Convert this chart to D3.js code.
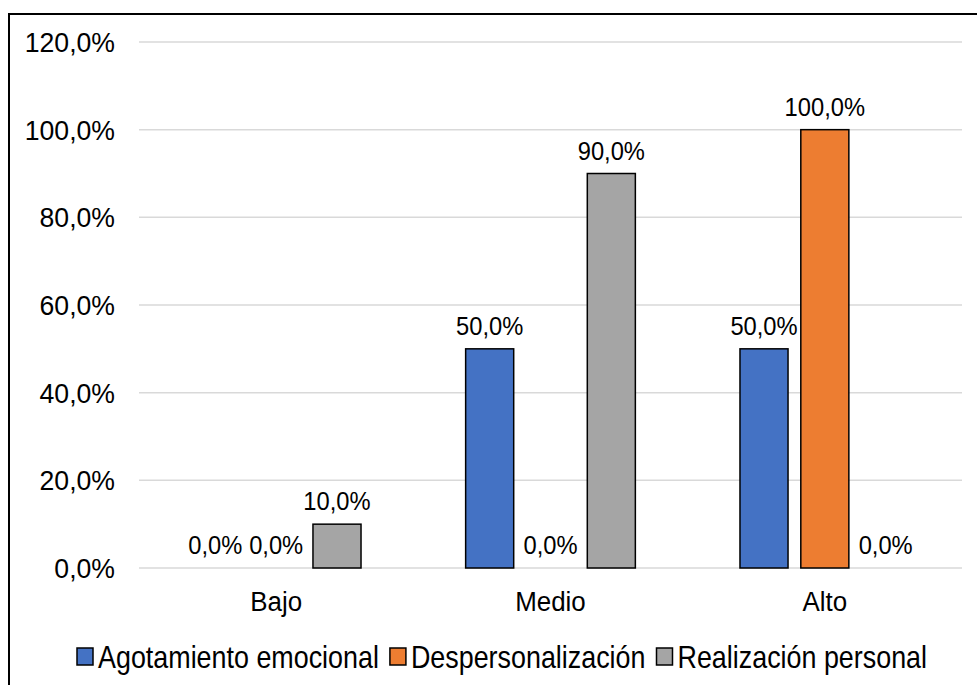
<!DOCTYPE html>
<html>
<head>
<meta charset="utf-8">
<script src="https://cdn.jsdelivr.net/npm/d3@7/dist/d3.min.js"></script>
<style>
  html, body { margin: 0; padding: 0; background: #fff; }
  svg { display: block; font-family: Arial, "Liberation Sans", sans-serif; }
</style>
</head>
<body>
<svg id="chart" width="977" height="685"></svg>
<script>
// Burnout dimensions by level
const categories = ["Bajo", "Medio", "Alto"];
const seriesNames = ["Agotamiento emocional", "Despersonalización", "Realización personal"];
const agotamiento = [0, 50, 50];
const despersonalizacion = [0, 0, 100];
const realizacion = [10, 90, 0];
const yTicks = [0, 20, 40, 60, 80, 100, 120];
const seriesColors = ["#4472C4", "#ED7D31", "#A5A5A5"];

const seriesValues = [agotamiento, despersonalizacion, realizacion];

const svg = d3.select("#chart");
const W = 977, H = 685;

const fmt = v => d3.format(".1f")(v).replace(".", ",") + "%";

// Narrow a text node horizontally to a fraction of its natural width;
// returns the resulting width of the last node
function squeeze(sel, f) {
  let w = 0;
  sel.each(function () {
    const len = this.getComputedTextLength();
    w = len * f;
    d3.select(this).attr("textLength", w).attr("lengthAdjust", "spacingAndGlyphs");
  });
  return w;
}

// Outer frame
svg.append("rect")
  .attr("x", 9).attr("y", 14)
  .attr("width", W + 20).attr("height", H + 20)
  .attr("fill", "#fff").attr("stroke", "#000").attr("stroke-width", 2);

const x0 = d3.scaleBand().domain(categories).range([139, 962]);
const x1 = d3.scaleBand().domain(seriesNames)
  .range([0, x0.bandwidth()]).paddingInner(0.21).paddingOuter(0.86);
const y = d3.scaleLinear().domain([0, 120]).range([568, 42]);

// Gridlines
svg.append("g").selectAll("line")
  .data(yTicks).join("line")
  .attr("x1", 139).attr("x2", 962)
  .attr("y1", d => y(d)).attr("y2", d => y(d))
  .attr("stroke", "#d9d9d9").attr("stroke-width", 1.5);

// Y axis labels
const yLab = svg.append("g").selectAll("text")
  .data(yTicks).join("text")
  .attr("x", 115).attr("y", d => y(d) + 10)
  .attr("text-anchor", "end")
  .attr("font-size", 28).attr("fill", "#000")
  .text(fmt);
squeeze(yLab, 0.95);

// Category labels
const cLab = svg.append("g").selectAll("text")
  .data(categories).join("text")
  .attr("x", d => x0(d) + x0.bandwidth() / 2)
  .attr("y", 611)
  .attr("text-anchor", "middle")
  .attr("font-size", 27).attr("fill", "#000")
  .text(d => d);
squeeze(cLab, 0.96);

// Bars
const flat = [];
categories.forEach((c, ci) => {
  seriesNames.forEach((s, si) => {
    flat.push({ cat: c, series: s, si, value: seriesValues[si][ci] });
  });
});

svg.append("g").selectAll("rect")
  .data(flat).join("rect")
  .attr("x", d => x0(d.cat) + x1(d.series))
  .attr("y", d => y(d.value))
  .attr("width", x1.bandwidth())
  .attr("height", d => y(0) - y(d.value))
  .attr("fill", d => seriesColors[d.si])
  .attr("stroke", d => d.value > 0 ? "#000" : "none")
  .attr("stroke-width", 1.5);

// Value labels
const vLab = svg.append("g").selectAll("text")
  .data(flat).join("text")
  .attr("x", d => x0(d.cat) + x1(d.series) + x1.bandwidth() / 2)
  .attr("y", d => y(d.value) - 14)
  .attr("text-anchor", "middle")
  .attr("font-size", 25.5).attr("fill", "#000")
  .text(d => fmt(d.value));
squeeze(vLab, 0.93);

// Legend
const legend = svg.append("g");
let lx = 77;
const ly = 668;
seriesNames.forEach((s, i) => {
  legend.append("rect")
    .attr("x", lx).attr("y", ly - 20)
    .attr("width", 16).attr("height", 17)
    .attr("fill", seriesColors[i]).attr("stroke", "#000").attr("stroke-width", 1.5);
  const t = legend.append("text")
    .attr("x", lx + 21).attr("y", ly)
    .attr("font-size", 32).attr("fill", "#000")
    .text(s);
  const w = squeeze(t, 0.84);
  lx += 21 + w + 11;
});
</script>
</body>
</html>
